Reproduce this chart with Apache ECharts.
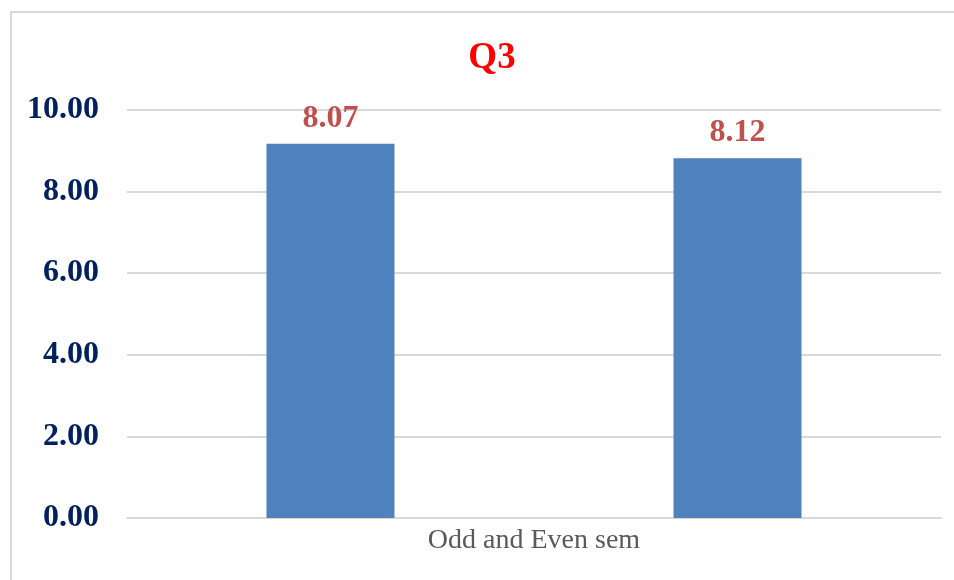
<!DOCTYPE html>
<html>
<head>
<meta charset="utf-8">
<script src="https://cdn.jsdelivr.net/npm/echarts@6/dist/echarts.min.js"></script>
<style>
  html, body { margin: 0; padding: 0; background: #fff; }
  #frame {
    position: absolute; left: 10px; top: 11px; width: 1000px; height: 600px;
    border-left: 2px solid #d9d9d9; border-top: 2px solid #d9d9d9;
  }
  #chart { position: absolute; left: 0; top: 0; width: 954px; height: 580px; }
</style>
</head>
<body>
<div id="frame"></div>
<div id="chart"></div>
<script>
// data
const categories = ['Odd and Even sem'];
const seriesNames = ['Odd sem', 'Even sem'];
const barValues = [9.17, 8.82];
const barLabels = ['8.07', '8.12'];
const yTicks = { min: 0, max: 10, interval: 2 };

const serif = '"Liberation Serif", "Times New Roman", serif';

const chart = echarts.init(document.getElementById('chart'));

const series = seriesNames.map((name, i) => ({
  name: name,
  type: 'bar',
  data: [barValues[i]],
  barWidth: 128,
  barGap: '218%',
  itemStyle: { color: '#4f81bd' },
  label: {
    show: true,
    position: 'top',
    distance: 9,
    formatter: () => barLabels[i],
    color: '#c0504d',
    fontFamily: serif,
    fontWeight: 'bold',
    fontSize: 32
  }
}));

chart.setOption({
  animation: false,
  title: {
    text: 'Q3',
    left: 487,
    top: 35,
    textAlign: 'center',
    textStyle: { color: '#ff0000', fontFamily: serif, fontWeight: 'bold', fontSize: 37 }
  },
  grid: { left: 127, right: 13, top: 110, bottom: 62, containLabel: false },
  xAxis: {
    type: 'category',
    data: categories,
    axisLine: { show: true, lineStyle: { color: '#d9d9d9', width: 2 } },
    axisTick: { show: false },
    axisLabel: { color: '#595959', fontFamily: serif, fontSize: 28, margin: 9 }
  },
  yAxis: {
    type: 'value',
    min: yTicks.min,
    max: yTicks.max,
    interval: yTicks.interval,
    axisLine: { show: false },
    axisTick: { show: false },
    splitLine: { lineStyle: { color: '#d9d9d9', width: 2 } },
    axisLabel: {
      color: '#002060', fontFamily: serif, fontWeight: 'bold', fontSize: 32,
      margin: 28,
      formatter: v => v.toFixed(2)
    }
  },
  series: series
});
</script>
</body>
</html>
